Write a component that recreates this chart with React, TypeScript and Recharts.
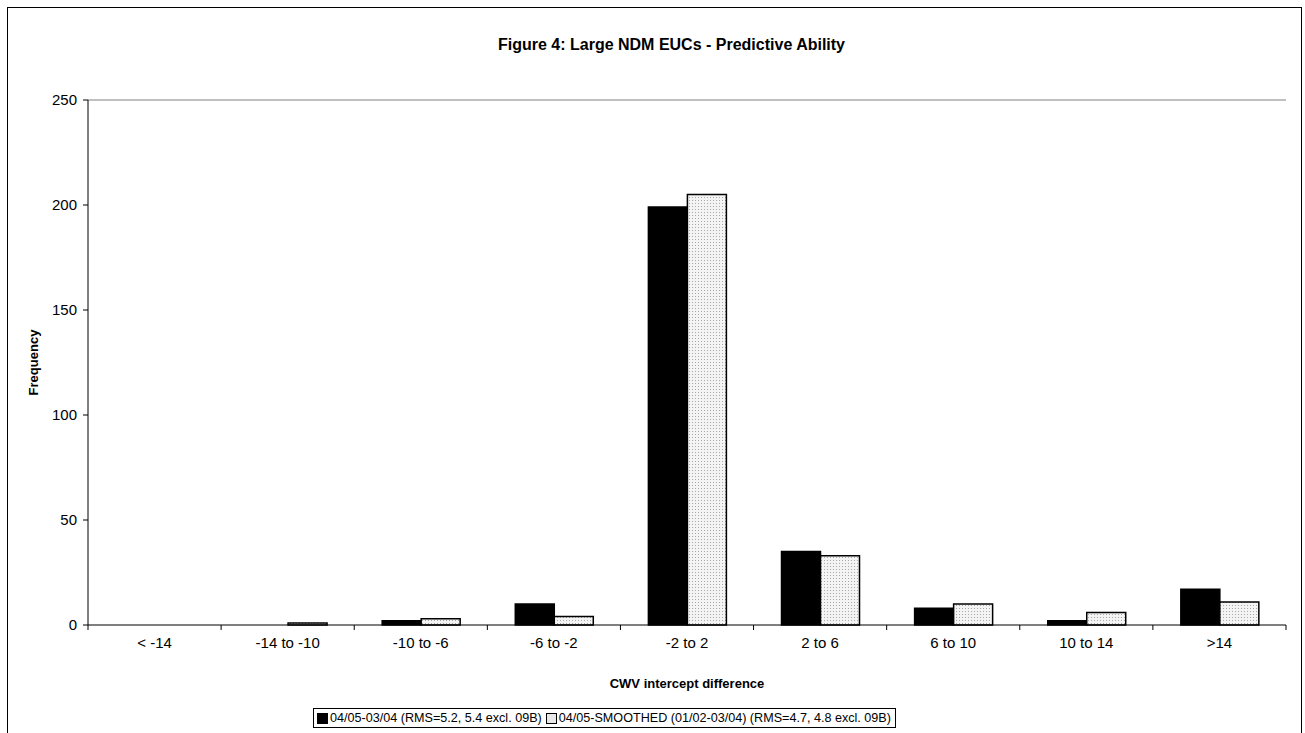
import { BarChart, Bar, XAxis, YAxis, ReferenceLine, Label } from "recharts";

const categories = ["< -14", "-14 to -10", "-10 to -6", "-6 to -2", "-2 to 2", "2 to 6", "6 to 10", "10 to 14", ">14"];
const actual = [0, 0, 2, 10, 199, 35, 8, 2, 17];
const smoothed = [0, 1, 3, 4, 205, 33, 10, 6, 11];
const yTicks = [0, 50, 100, 150, 200, 250];
const seriesNames = [
  "04/05-03/04 (RMS=5.2, 5.4 excl. 09B)",
  "04/05-SMOOTHED (01/02-03/04) (RMS=4.7, 4.8 excl. 09B)",
];

const data = categories.map((name, i) => ({ name, actual: actual[i], smoothed: smoothed[i] }));

const font = "'Liberation Sans', Arial, sans-serif";
const CHART_W = 1291;
const CHART_H = 731;
const margin = { top: 92, right: 13, left: 0, bottom: 84 };
const Y_W = 80;
const bandW = (CHART_W - margin.left - margin.right - Y_W) / categories.length;

function XTick(props: any) {
  const { x, y, payload, index } = props;
  const left = x - bandW / 2;
  return (
    <g>
      <line x1={left} x2={left} y1={y - 8} y2={y - 3} stroke="#000" />
      {index === categories.length - 1 && (
        <line x1={x + bandW / 2} x2={x + bandW / 2} y1={y - 8} y2={y - 3} stroke="#000" />
      )}
      <text x={x} y={y + 15} textAnchor="middle" fontSize={15} fontFamily={font} fill="#000">
        {payload.value}
      </text>
    </g>
  );
}

export default function App() {
  return (
    <div
      style={{
        position: "absolute",
        left: 7,
        top: 7,
        width: CHART_W + 2,
        height: CHART_H + 2,
        border: "1px solid #000",
        background: "#fff",
        fontFamily: font,
      }}
    >
      <div
        style={{
          position: "absolute",
          left: 0,
          width: CHART_W + 36,
          top: 28,
          textAlign: "center",
          fontWeight: "bold",
          fontSize: 16,
        }}
      >
        Figure 4: Large NDM EUCs - Predictive Ability
      </div>
      <BarChart
        width={CHART_W}
        height={CHART_H}
        data={data}
        margin={margin}
        barCategoryGap="21%"
        barGap={0}
      >
        <defs>
          <pattern id="dots" width="3" height="3" patternUnits="userSpaceOnUse">
            <rect width="3" height="3" fill="#f4f4f4" />
            <rect width="1" height="1" fill="#a8a8a8" />
          </pattern>
        </defs>
        <XAxis
          dataKey="name"
          height={30}
          interval={0}
          tickLine={false}
          axisLine={{ stroke: "#000" }}
          tick={<XTick />}
        >
          <Label
            content={(p: any) => (
              <text
                x={p.viewBox.x + p.viewBox.width / 2}
                y={p.viewBox.y + 58}
                textAnchor="middle"
                dominantBaseline="central"
                fontSize={13}
                fontWeight="bold"
                fontFamily={font}
                fill="#000"
              >
                CWV intercept difference
              </text>
            )}
          />
        </XAxis>
        <YAxis
          width={Y_W}
          domain={[0, 250]}
          ticks={yTicks}
          interval={0}
          tickSize={5}
          tickMargin={6}
          axisLine={{ stroke: "#000" }}
          tickLine={{ stroke: "#000" }}
          tick={{ fontSize: 15, fontFamily: font, fill: "#000" }}
        >
          <Label
            content={(p: any) => {
              const cx = p.viewBox.x + 25;
              const cy = p.viewBox.y + p.viewBox.height / 2;
              return (
                <text
                  x={cx}
                  y={cy}
                  transform={`rotate(-90 ${cx} ${cy})`}
                  textAnchor="middle"
                  dominantBaseline="central"
                  fontSize={13}
                  fontWeight="bold"
                  fontFamily={font}
                  fill="#000"
                >
                  Frequency
                </text>
              );
            }}
          />
        </YAxis>
        <YAxis yAxisId="frame" orientation="right" width={0} tick={false} tickLine={false} axisLine={{ stroke: "#808080" }} />
        <ReferenceLine y={250} stroke="#808080" />
        <Bar dataKey="actual" name={seriesNames[0]} fill="#000" stroke="#000" strokeWidth={1.5} isAnimationActive={false} />
        <Bar dataKey="smoothed" name={seriesNames[1]} fill="url(#dots)" stroke="#000" strokeWidth={1.5} isAnimationActive={false} />
      </BarChart>
      <div
        style={{
          position: "absolute",
          left: 305,
          top: 700,
          border: "1px solid #000",
          padding: "2px 4px 2px 3px",
          fontSize: 12.6,
          whiteSpace: "nowrap",
          display: "flex",
          alignItems: "center",
        }}
      >
        {seriesNames.map((n, i) => (
          <span key={n} style={{ display: "inline-flex", alignItems: "center", marginRight: i === 0 ? 4 : 0 }}>
            <span
              style={{
                display: "inline-block",
                width: 9,
                height: 9,
                marginRight: 2,
                border: "1px solid #000",
                background: i === 0 ? "#000" : "#e8e8e8",
              }}
            />
            {n}
          </span>
        ))}
      </div>
    </div>
  );
}
